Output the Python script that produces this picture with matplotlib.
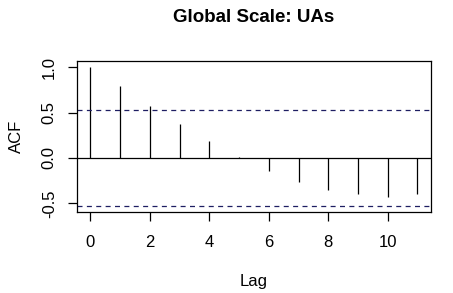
import matplotlib
matplotlib.use("Agg")
import matplotlib.pyplot as plt
import numpy as np

# acf values
lags = np.arange(0, 12)
acf = [1.0, 0.79, 0.575, 0.377, 0.19, 0.01, -0.14, -0.26, -0.35, -0.40, -0.425, -0.40]
ci = 0.524
yticks = [-0.5, 0.0, 0.5, 1.0]
ylabels = ["-0.5", "0.0", "0.5", "1.0"]
xticks = [0, 2, 4, 6, 8, 10]

plt.rcParams['font.family'] = ['Liberation Sans', 'DejaVu Sans']

fig = plt.figure(figsize=(4.53, 2.93), dpi=100)
ax = fig.add_axes([0.170, 0.2754, 0.781, 0.5154])

ax.vlines(lags, 0, acf, color='black', lw=0.9)
ax.axhline(0, color='black', lw=0.9)
ax.axhline(ci, color='#1e1e62', lw=0.9, linestyle=(0, (4, 3.5)))
ax.axhline(-ci, color='#1e1e62', lw=0.9, linestyle=(0, (4, 3.5)))

ax.set_xlim(-0.45, 11.45)
ax.set_ylim(-0.597, 1.063)
ax.set_xticks(xticks)
ax.set_yticks(yticks)
ax.set_yticklabels(ylabels, rotation=90, va='center')
ax.tick_params(direction='out', length=6.5, width=0.9, labelsize=12, colors='black')
ax.tick_params(axis='x', pad=10)
ax.tick_params(axis='y', pad=8)
for s in ax.spines.values():
    s.set_linewidth(0.9)

ax.set_xlabel("Lag", fontsize=12, labelpad=17)
ax.set_ylabel("ACF", fontsize=12, labelpad=13)
ax.set_title("Global Scale: UAs", fontsize=13.5, fontweight='bold', pad=28)

fig.savefig("out.png", dpi=100)
